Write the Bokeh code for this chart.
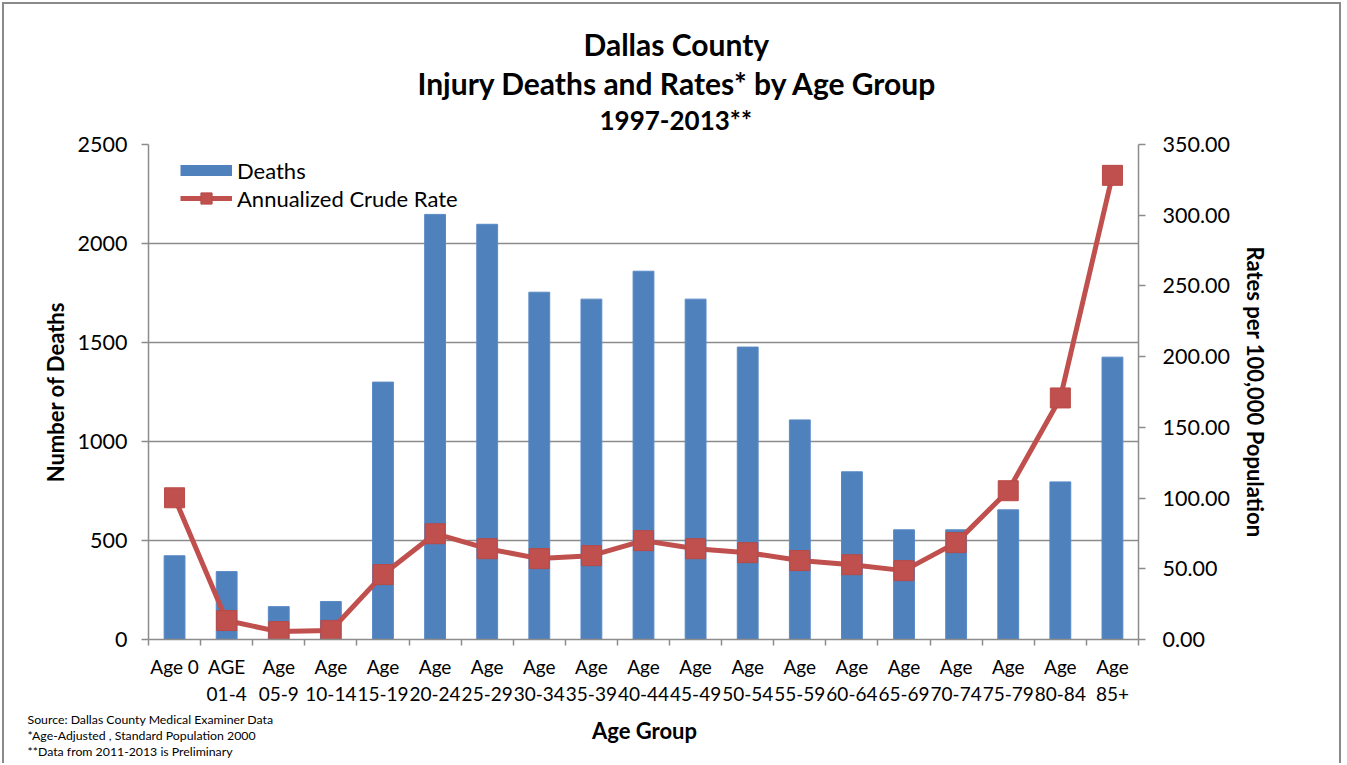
from bokeh.plotting import figure
from bokeh.layouts import column
from bokeh.models import (ColumnDataSource, Range1d, LinearAxis, FixedTicker,
                          NumeralTickFormatter, Legend, LegendItem, Grid, Title)
from bokeh.core.properties import value
from bokeh.embed import file_html
from bokeh.resources import INLINE

# ---- data ----
categories = ["Age 0", "AGE 01-4", "Age 05-9", "Age 10-14", "Age 15-19", "Age 20-24",
              "Age 25-29", "Age 30-34", "Age 35-39", "Age 40-44", "Age 45-49", "Age 50-54",
              "Age 55-59", "Age 60-64", "Age 65-69", "Age 70-74", "Age 75-79", "Age 80-84",
              "Age 85+"]
tick_labels = ["Age 0", "AGE\n01-4", "Age\n05-9", "Age\n10-14", "Age\n15-19", "Age\n20-24",
               "Age\n25-29", "Age\n30-34", "Age\n35-39", "Age\n40-44", "Age\n45-49", "Age\n50-54",
               "Age\n55-59", "Age\n60-64", "Age\n65-69", "Age\n70-74", "Age\n75-79", "Age\n80-84",
               "Age\n85+"]
deaths = [423, 343, 166, 192, 1300, 2147, 2097, 1754, 1719, 1860, 1719, 1477,
          1109, 847, 554, 554, 655, 796, 1426]
rates = [100.2, 13.4, 5.6, 6.4, 45.9, 74.8, 64.2, 57.2, 59.3, 69.9, 64.2, 61.4,
         55.8, 52.9, 48.7, 68.5, 105.2, 170.8, 328.2]
left_ticks = [0, 500, 1000, 1500, 2000, 2500]
right_ticks = [0, 50, 100, 150, 200, 250, 300, 350]
grid_ticks = [500, 1000, 1500, 2000]

title_lines = ["Dallas County", "Injury Deaths and Rates* by Age Group", "1997-2013**"]
x_title = "Age Group"
y_title = "Number of Deaths"
y2_title = "Rates per 100,000 Population"
notes = ["Source: Dallas County Medical Examiner Data",
         "*Age-Adjusted , Standard Population 2000",
         "**Data from 2011-2013 is Preliminary"]

FONT = "Lato"
BLUE = "#4F81BD"
RED = "#C0504D"
GREY = "#8C8C8C"
EDGE = "#8A8A8A"
W = 1343
FRAME_L, FRAME_R = 148, 1138

n = len(categories)
centers = [i + 0.5 for i in range(n)]
source = ColumnDataSource(dict(x=centers, cat=categories, deaths=deaths, rates=rates))

# ---- main chart (page y 0..708) ----
p = figure(width=W, height=708, output_backend="svg", toolbar_location=None,
           x_range=Range1d(0, n), y_range=Range1d(0, 2500),
           x_axis_type=None, y_axis_type=None,
           min_border_left=FRAME_L, min_border_right=W - FRAME_R, min_border_top=144,
           min_border_bottom=68,
           background_fill_color="white", border_fill_alpha=0)
p.outline_line_color = None
p.styles = {"box-shadow": f"inset 2px 2px 0 0 #fff, inset -2px 0 0 0 #fff, "
                          f"inset 4px 4px 0 0 {EDGE}, inset -4px 0 0 0 {EDGE}"}
p.extra_y_ranges = {"rate": Range1d(0, 350)}
has_fa = "frame_align" in p.properties()
if has_fa:
    p.frame_align = False

# title lines (stacked from the frame upward)
for txt, size, off, so in [(title_lines[2], "26px", 451, 15),
                           (title_lines[1], "30px", 269, -12),
                           (title_lines[0], "30px", 435, 14)]:
    p.add_layout(Title(text=txt, align="left", offset=off, standoff=so,
                       vertical_align="middle", text_font=FONT, text_font_style="bold",
                       text_font_size=size, text_color="black"), "above")

p.add_layout(Grid(dimension=1, ticker=FixedTicker(ticks=grid_ticks),
                  grid_line_color=GREY, grid_line_width=1.5))


def style_axis(ax, label_size):
    ax.axis_line_color = GREY
    ax.axis_line_width = 1.5
    ax.major_tick_line_color = GREY
    ax.major_tick_line_width = 1.5
    ax.minor_tick_line_color = GREY
    ax.minor_tick_line_width = 1.5
    ax.major_label_text_font = FONT
    ax.major_label_text_font_size = label_size
    ax.major_label_text_color = "black"
    ax.axis_label_text_font = FONT
    ax.axis_label_text_font_style = "bold"
    ax.axis_label_text_font_size = "22px"
    ax.axis_label_text_color = "black"


laxis = LinearAxis(ticker=FixedTicker(ticks=left_ticks), axis_label=y_title)
style_axis(laxis, "21.5px")
laxis.major_tick_out = 7
laxis.major_tick_in = 0
laxis.major_label_standoff = 14
laxis.axis_label_standoff = 6
p.add_layout(laxis, "left")

raxis = LinearAxis(y_range_name="rate", ticker=FixedTicker(ticks=right_ticks),
                   formatter=NumeralTickFormatter(format="0.00"), axis_label=y2_title)
style_axis(raxis, "21.5px")
raxis.major_tick_out = 7
raxis.major_tick_in = 0
raxis.major_label_standoff = 17
raxis.axis_label_standoff = 9
p.add_layout(raxis, "right")

xaxis = LinearAxis(ticker=FixedTicker(ticks=centers, minor_ticks=list(range(n + 1))),
                   major_label_overrides={c: t for c, t in zip(centers, tick_labels)})
style_axis(xaxis, "19px")
xaxis.major_tick_out = 0
xaxis.major_tick_in = 0
xaxis.minor_tick_out = 6
xaxis.minor_tick_in = 0
xaxis.major_label_standoff = 9
p.add_layout(xaxis, "below")

bars = p.vbar(x="x", top="deaths", width=0.4, source=source,
              fill_color=BLUE, line_color="#5A8AC6", line_width=1)
line_r = p.line(x="x", y="rates", source=source, y_range_name="rate",
                line_color=RED, line_width=5)
mark_r = p.scatter(x="x", y="rates", source=source, y_range_name="rate",
                   marker="square", size=20, fill_color=RED, line_color="#B84A47", line_width=1)

# legend swatch for the bars (hidden line, drawn only in the legend)
bar_swatch = p.line(x="x", y="deaths", source=source, line_color=BLUE, line_width=11,
                    visible=False)

legend = Legend(items=[LegendItem(label="Deaths", renderers=[bar_swatch]),
                       LegendItem(label="Annualized Crude Rate", renderers=[line_r, mark_r])],
                location=(32, 427), orientation="vertical",
                glyph_width=52, glyph_height=28, spacing=0, padding=0, margin=0,
                label_standoff=5, label_text_font=FONT, label_text_font_size="22px",
                label_text_color="black", border_line_color=None, background_fill_alpha=0,
                inactive_fill_alpha=0)
p.add_layout(legend, "center")

# ---- bottom strip (page y 708..763): x-axis title and source notes ----
if has_fa:
    bx_range = Range1d(0, W)
    note_x = 27
else:
    bx_range = Range1d(FRAME_L, FRAME_R)
    note_x = FRAME_L + 4
bot = figure(width=W, height=55, output_backend="svg", toolbar_location=None,
             x_range=bx_range, y_range=Range1d(763, 708),
             x_axis_type=None, y_axis_type=None, min_border=0,
             background_fill_alpha=0, border_fill_alpha=0)
bot.outline_line_color = None
bot.styles = {"box-shadow": f"inset 2px 0 0 0 #fff, inset -2px 0 0 0 #fff, "
                            f"inset 4px 0 0 0 {EDGE}, inset -4px 0 0 0 {EDGE}"}
if has_fa:
    bot.frame_align = False
bot.text(x=[644], y=[730], text=[x_title], text_font=value(FONT), text_font_style="bold",
         text_font_size="22px", text_align="center", text_baseline="middle", text_color="black")
bot.text(x=[note_x] * 3, y=[719, 735, 751], text=notes, text_font=value(FONT),
         text_font_size="12.3px", text_align="left", text_baseline="middle", text_color="black")

layout = column(p, bot, spacing=0)

open("out.html", "w").write(file_html(layout, INLINE))
